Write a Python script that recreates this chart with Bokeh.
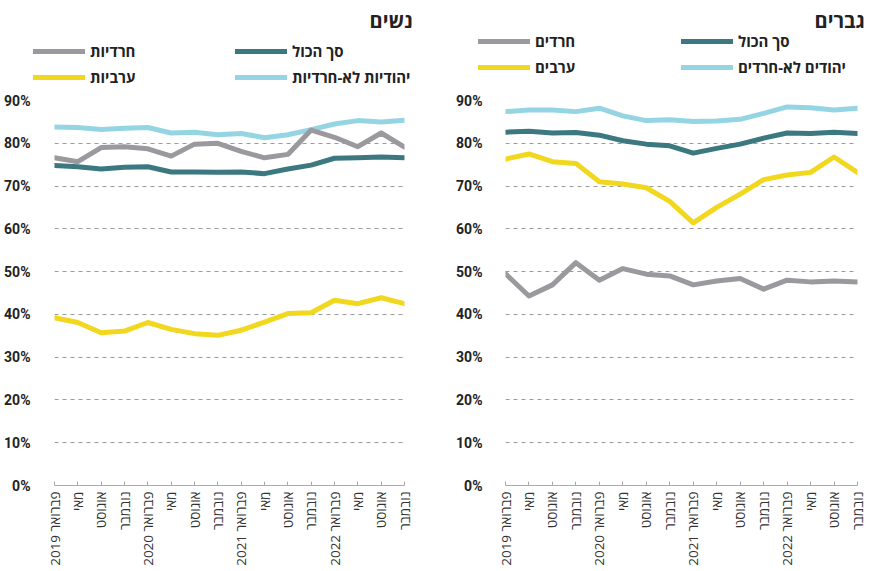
from math import pi
from bokeh.plotting import figure
from bokeh.layouts import row, column
from bokeh.models import FixedTicker, Legend, LegendItem, Label, Range1d
from bokeh.embed import file_html
from bokeh.resources import INLINE

# ---- data ----
periods = ["פברואר 2019", "מאי", "אוגוסט", "נובמבר",
           "פברואר 2020", "מאי", "אוגוסט", "נובמבר",
           "פברואר 2021", "מאי", "אוגוסט", "נובמבר",
           "פברואר 2022", "מאי", "אוגוסט", "נובמבר"]
y_ticks = [0, 10, 20, 30, 40, 50, 60, 70, 80, 90]
y_tick_labels = ["0%", "10%", "20%", "30%", "40%", "50%", "60%", "70%", "80%", "90%"]

women_title = "נשים"
women_labels = ["סך הכול", "חרדיות", "יהודיות לא-חרדיות", "ערביות"]
women_total = [74.8, 74.5, 74.0, 74.4, 74.5, 73.3, 73.3, 73.2, 73.3, 72.9, 74.0, 74.9, 76.5, 76.6, 76.8, 76.6]
women_haredi = [76.6, 75.7, 79.0, 79.2, 78.7, 77.0, 79.8, 80.0, 78.1, 76.6, 77.4, 83.1, 81.4, 79.2, 82.4, 79.1]
women_jewish = [83.8, 83.7, 83.2, 83.5, 83.7, 82.4, 82.6, 82.0, 82.3, 81.3, 82.0, 83.2, 84.5, 85.3, 85.0, 85.4]
women_arab = [39.2, 38.1, 35.7, 36.1, 38.1, 36.5, 35.5, 35.1, 36.3, 38.2, 40.2, 40.4, 43.3, 42.5, 43.9, 42.5]

men_title = "גברים"
men_labels = ["סך הכול", "חרדים", "יהודים לא-חרדים", "ערבים"]
men_total = [82.6, 82.8, 82.4, 82.5, 81.9, 80.6, 79.8, 79.4, 77.7, 78.8, 79.8, 81.2, 82.4, 82.3, 82.6, 82.3]
men_haredi = [49.5, 44.3, 46.9, 52.1, 48.0, 50.7, 49.4, 49.0, 46.9, 47.8, 48.4, 45.9, 48.0, 47.6, 47.8, 47.6]
men_jewish = [87.4, 87.8, 87.8, 87.4, 88.2, 86.4, 85.3, 85.5, 85.1, 85.2, 85.6, 87.0, 88.5, 88.3, 87.8, 88.2]
men_arab = [76.3, 77.5, 75.7, 75.3, 71.0, 70.5, 69.6, 66.4, 61.4, 65.0, 68.1, 71.5, 72.6, 73.2, 76.8, 73.2]

COLORS = {"total": "#3b7880", "haredi": "#9a9a9e", "jewish": "#95d5e3", "arab": "#f1d71e"}
NUM_FONT = "Roboto"
HEB_FONT = "Open Sans"
LINE_KW = dict(line_width=5, line_cap="round", line_join="round")
NAN = [float("nan")]

HEADER_H = 92


def make_header(title, labels, width, legend_loc, label_width, spacing, title_loc):
    h = figure(width=width, height=HEADER_H, output_backend="svg", toolbar_location=None,
               x_range=Range1d(0, 1), y_range=Range1d(0, 1),
               x_axis_type=None, y_axis_type=None,
               min_border_left=0, min_border_right=0, min_border_top=0, min_border_bottom=0)
    h.outline_line_color = None
    h.grid.visible = False
    # legend proxies (no visible data)
    r_total = h.line(NAN, NAN, color=COLORS["total"], **LINE_KW)
    r_jewish = h.line(NAN, NAN, color=COLORS["jewish"], **LINE_KW)
    r_haredi = h.line(NAN, NAN, color=COLORS["haredi"], **LINE_KW)
    r_arab = h.line(NAN, NAN, color=COLORS["arab"], **LINE_KW)
    items = [LegendItem(label=labels[1], renderers=[r_haredi]),
             LegendItem(label=labels[3], renderers=[r_arab]),
             LegendItem(label=labels[0], renderers=[r_total]),
             LegendItem(label=labels[2], renderers=[r_jewish])]
    legend = Legend(items=items, location=legend_loc, orientation="vertical", nrows=2,
                    padding=0, margin=0, spacing=spacing,
                    glyph_width=52, glyph_height=18, label_height=18,
                    label_width=label_width, label_standoff=5,
                    label_text_font=HEB_FONT, label_text_font_size="15px",
                    label_text_font_style="bold", label_text_color="#222222",
                    border_line_alpha=0, background_fill_alpha=0)
    h.add_layout(legend, "center")
    t = Label(x=title_loc[0], y=title_loc[1], x_units="screen", y_units="screen",
              text=title, text_align="left", text_baseline="alphabetic",
              text_font=HEB_FONT, text_font_size="20px", text_font_style="bold",
              text_color="#222222")
    h.add_layout(t)
    return h


def make_panel(total, haredi, jewish, arab, width, b_left, b_right, y_standoff):
    x = list(range(len(periods)))
    p = figure(width=width, height=476, output_backend="svg", toolbar_location=None,
               x_range=Range1d(0, len(periods) - 1), y_range=Range1d(0, 90),
               min_border_left=b_left, min_border_right=b_right,
               min_border_top=8, min_border_bottom=83)
    p.outline_line_color = None

    p.line(x, total, color=COLORS["total"], **LINE_KW)
    p.line(x, jewish, color=COLORS["jewish"], **LINE_KW)
    p.line(x, haredi, color=COLORS["haredi"], **LINE_KW)
    p.line(x, arab, color=COLORS["arab"], **LINE_KW)

    xa = p.xaxis[0]
    xa.ticker = FixedTicker(ticks=x)
    xa.major_label_overrides = {i: lab for i, lab in enumerate(periods)}
    xa.major_label_orientation = pi / 2
    xa.major_label_text_font = HEB_FONT
    xa.major_label_text_font_size = "13.5px"
    xa.major_label_text_color = "#333333"
    xa.major_label_standoff = 6
    xa.axis_line_color = "#aaaaaa"
    xa.major_tick_line_color = "#aaaaaa"
    xa.major_tick_in = 4
    xa.major_tick_out = 0
    xa.minor_tick_line_color = None

    ya = p.yaxis[0]
    ya.ticker = FixedTicker(ticks=y_ticks)
    ya.major_label_overrides = {v: lab for v, lab in zip(y_ticks, y_tick_labels)}
    ya.major_label_text_font = NUM_FONT
    ya.major_label_text_font_size = "14px"
    ya.major_label_text_font_style = "bold"
    ya.major_label_text_color = "#222222"
    ya.major_label_standoff = y_standoff
    ya.axis_line_color = None
    ya.major_tick_line_color = None
    ya.minor_tick_line_color = None

    p.xgrid.grid_line_color = None
    p.ygrid.ticker = FixedTicker(ticks=y_ticks[1:])
    p.ygrid.grid_line_color = "#9a9a9a"
    p.ygrid.grid_line_dash = "4 4"
    p.ygrid.grid_line_width = 1
    return p


hdr_left = make_header(women_title, women_labels, 430, legend_loc=(33, 5),
                       label_width=139, spacing=6, title_loc=(369, 72))
hdr_right = make_header(men_title, men_labels, 437, legend_loc=(48, 15),
                        label_width=140, spacing=6, title_loc=(384, 72))
plot_left = make_panel(women_total, women_haredi, women_jewish, women_arab,
                       width=430, b_left=54, b_right=26, y_standoff=18)
plot_right = make_panel(men_total, men_haredi, men_jewish, men_arab,
                        width=437, b_left=75, b_right=10, y_standoff=17)

layout = column(row(hdr_left, hdr_right), row(plot_left, plot_right))
open("out.html", "w").write(file_html(layout, INLINE))
